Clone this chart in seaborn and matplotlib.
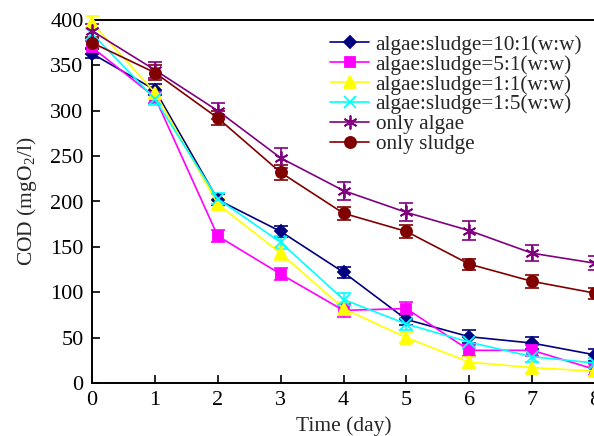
import matplotlib
matplotlib.use("Agg")
import matplotlib.pyplot as plt
import seaborn as sns
import numpy as np

# COD over time for each algae/sludge mixture
days = [0, 1, 2, 3, 4, 5, 6, 7, 8]

labels = [
    "algae:sludge=10:1(w:w)",
    "algae:sludge=5:1(w:w)",
    "algae:sludge=1:1(w:w)",
    "algae:sludge=1:5(w:w)",
    "only algae",
    "only sludge",
]

cod_10_1 = [363, 323, 202, 167, 122, 70, 51, 44, 31]
cod_5_1 = [370, 315, 162, 120, 80, 82, 36, 36, 15]
cod_1_1 = [397, 320, 197, 143, 82, 50, 23, 17, 13]
cod_1_5 = [385, 313, 203, 155, 92, 65, 45, 29, 22]
cod_algae = [388, 345, 300, 248, 212, 188, 168, 143, 132]
cod_sludge = [375, 342, 292, 232, 187, 167, 131, 112, 99]

err_10_1 = [5, 6, 6, 6, 6, 6, 7, 7, 7]
err_5_1 = [7, 7, 7, 7, 7, 7, 6, 6, 6]
err_1_1 = [7, 7, 6, 7, 7, 6, 6, 6, 5]
err_1_5 = [6, 7, 6, 7, 7, 7, 6, 6, 6]
err_algae = [8, 9, 9, 11, 10, 10, 10, 9, 8]
err_sludge = [6, 8, 8, 8, 7, 7, 6, 7, 6]

series = [cod_10_1, cod_5_1, cod_1_1, cod_1_5, cod_algae, cod_sludge]
errors = [err_10_1, err_5_1, err_1_1, err_1_5, err_algae, err_sludge]
colors = ["#000080", "#FF00FF", "#FFFF00", "#00FFFF", "#800080", "#800000"]
markers = ["D", "s", "^", "x", (6, 2, 0), "o"]
msizes = [6, 7, 8, 8, 10, 8]

sns.set_style("ticks")
plt.rcParams["font.family"] = ["Liberation Serif", "DejaVu Serif"]
plt.rcParams["mathtext.fontset"] = "custom"
plt.rcParams["mathtext.rm"] = "Liberation Serif"

fig = plt.figure(figsize=(5.94, 4.36), dpi=100)
ax = fig.add_axes([92 / 594, 1 - 383 / 436, (595 - 92) / 594, (383 - 20) / 436])

for vals, errs, col, mk, ms, lab in zip(series, errors, colors, markers, msizes, labels):
    ax.errorbar(days, vals, yerr=errs, fmt="none", ecolor=col, elinewidth=1.2,
                capsize=5, capthick=1.2, clip_on=False, zorder=2)
    sns.lineplot(x=days, y=vals, ax=ax, color=col, marker=mk, markersize=ms,
                 markeredgecolor=col, markeredgewidth=1.3, linewidth=1.2,
                 label=lab, clip_on=False, zorder=3)

ax.set_xlim(0, 8)
ax.set_ylim(0, 400)
ax.set_xticks(range(0, 9))
ax.set_yticks(range(0, 401, 50))
ax.tick_params(direction="in", length=6, width=1.2, labelsize=16, pad=6,
               top=False, right=False, colors="black")
for side in ["left", "bottom", "top"]:
    ax.spines[side].set_linewidth(1.4)
    ax.spines[side].set_color("black")
ax.spines["right"].set_visible(False)

ax.set_xlabel("Time (day)", fontsize=15.5, labelpad=4)
ax.set_ylabel("COD (mgO$_2$/l)", fontsize=15.5, labelpad=8)

leg = ax.legend(loc="upper left", bbox_to_anchor=(330 / 594, 1 - 35 / 436),
                bbox_transform=fig.transFigure, frameon=False, fontsize=15.3,
                handlelength=1.85, handletextpad=0.3, labelspacing=0.0,
                borderpad=0, borderaxespad=0)

fig.savefig("out.png", dpi=100)
